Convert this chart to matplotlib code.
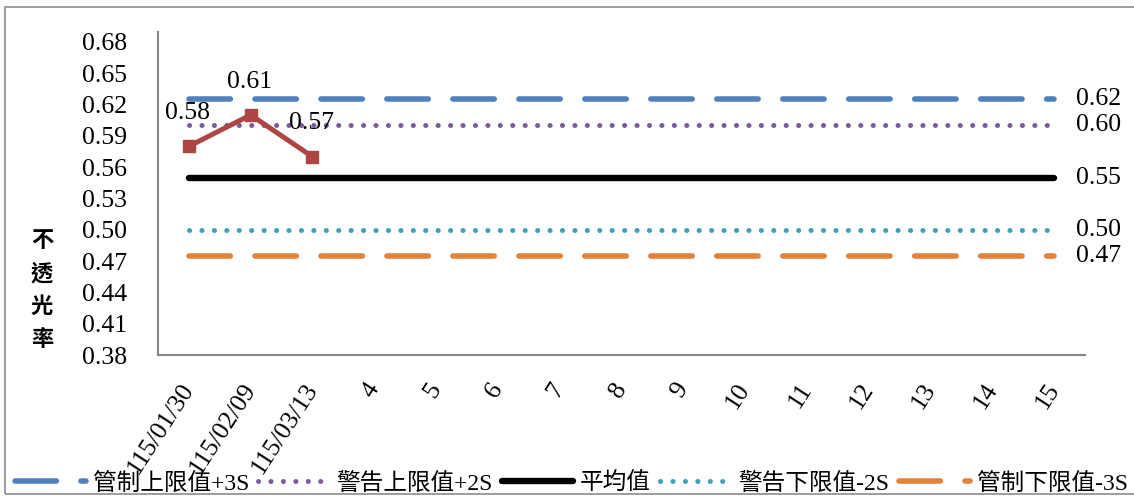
import matplotlib
matplotlib.use("Agg")
import matplotlib.pyplot as plt
import matplotlib.transforms as mtransforms
from matplotlib.patches import Rectangle

# ---- data ----
categories = ['115/01/30', '115/02/09', '115/03/13', '4', '5', '6', '7', '8',
              '9', '10', '11', '12', '13', '14', '15']
measured = [0.58, 0.61, 0.57]
ucl_3s = 0.625
uwl_2s = 0.60
mean_val = 0.55
lwl_2s = 0.50
lcl_3s = 0.475
y_ticks = [0.38, 0.41, 0.44, 0.47, 0.50, 0.53, 0.56, 0.59, 0.62, 0.65, 0.68]
limit_labels = ['管制上限值+3S', '警告上限值+2S', '平均值', '警告下限值-2S', '管制下限值-3S']
y_title = '不透光率'

SERIF = ['Liberation Serif', 'Noto Sans CJK TC']
plt.rcParams['font.family'] = SERIF
plt.rcParams['lines.scale_dashes'] = False

fig = plt.figure(figsize=(11.34, 4.97), dpi=100)
ax = fig.add_axes([0.1393, 0.2857, 0.9568 - 0.1393, 0.9356 - 0.2857])

# outer chart border
fig.patches.append(Rectangle((5 / 1134, 3 / 497), 1.2, 487 / 497,
                             transform=fig.transFigure, fill=False,
                             edgecolor='#8c8c8c', lw=1.2))

x = list(range(1, len(categories) + 1))
dash = (0, (29.8, 17.7))
dot = (0, (0.1, 8.85))
limits = [
    (ucl_3s, '#4F81BD', dash, 4.0),
    (uwl_2s, '#7A5B9C', dot, 3.6),
    (mean_val, '#000000', '-', 4.6),
    (lwl_2s, '#3FA0B8', dot, 3.6),
    (lcl_3s, '#E3823A', dash, 4.0),
]
handles = []
for (val, col, ls, lw), lab in zip(limits, limit_labels):
    ln, = ax.plot(x, [val] * len(x), color=col, linestyle=ls, lw=lw,
                  dash_capstyle='round', solid_capstyle='round', label=lab)
    handles.append(ln)
    ax.annotate(f"{val:.2f}", (x[-1], val), xytext=(15.5, 0),
                textcoords='offset points', ha='left', va='center',
                fontsize=18.5, family=SERIF)

ax.plot(x[:len(measured)], measured, color='#AD4542', lw=3.6,
        marker='s', markersize=9, zorder=5)
for xi, v in zip(x, measured):
    ax.annotate(f"{v:.2f}", (xi, v), xytext=(-1, 24), textcoords='offset points',
                ha='center', va='center', fontsize=18.5, family=SERIF)

ax.set_xlim(0.5, len(categories) + 0.5)
ax.set_ylim(0.38, 0.6895)
ax.set_yticks(y_ticks)
ax.set_yticklabels([f"{t:.2f}" for t in y_ticks], fontsize=18.5)
ax.set_xticks(x)
ax.set_xticklabels(categories, fontsize=18.5, rotation=57, ha='right',
                   va='center', rotation_mode='anchor')
offset = mtransforms.ScaledTranslation(-2 / 100, 0, fig.dpi_scale_trans)
for lbl in ax.get_xticklabels():
    lbl.set_transform(lbl.get_transform() + offset)
ax.tick_params(axis='both', length=0)
ax.tick_params(axis='y', pad=22)
ax.tick_params(axis='x', pad=21.5)

for s in ['top', 'right']:
    ax.spines[s].set_visible(False)
for s in ['left', 'bottom']:
    ax.spines[s].set_color('#868686')
    ax.spines[s].set_linewidth(1.5)

fig.text(42 / 1134, 1 - 290 / 497, '\n'.join(y_title), ha='center', va='center',
         fontsize=16, fontweight='bold', family=['Noto Sans CJK TC'],
         linespacing=1.55)

fig.legend(handles=handles, loc='center left', bbox_to_anchor=(0.013, 0.027),
           ncol=5, frameon=False, handlelength=3.0,
           handletextpad=0.3, columnspacing=0.4, borderpad=0, borderaxespad=0,
           prop={'family': SERIF, 'size': 17})

fig.savefig('out.png', dpi=100)
